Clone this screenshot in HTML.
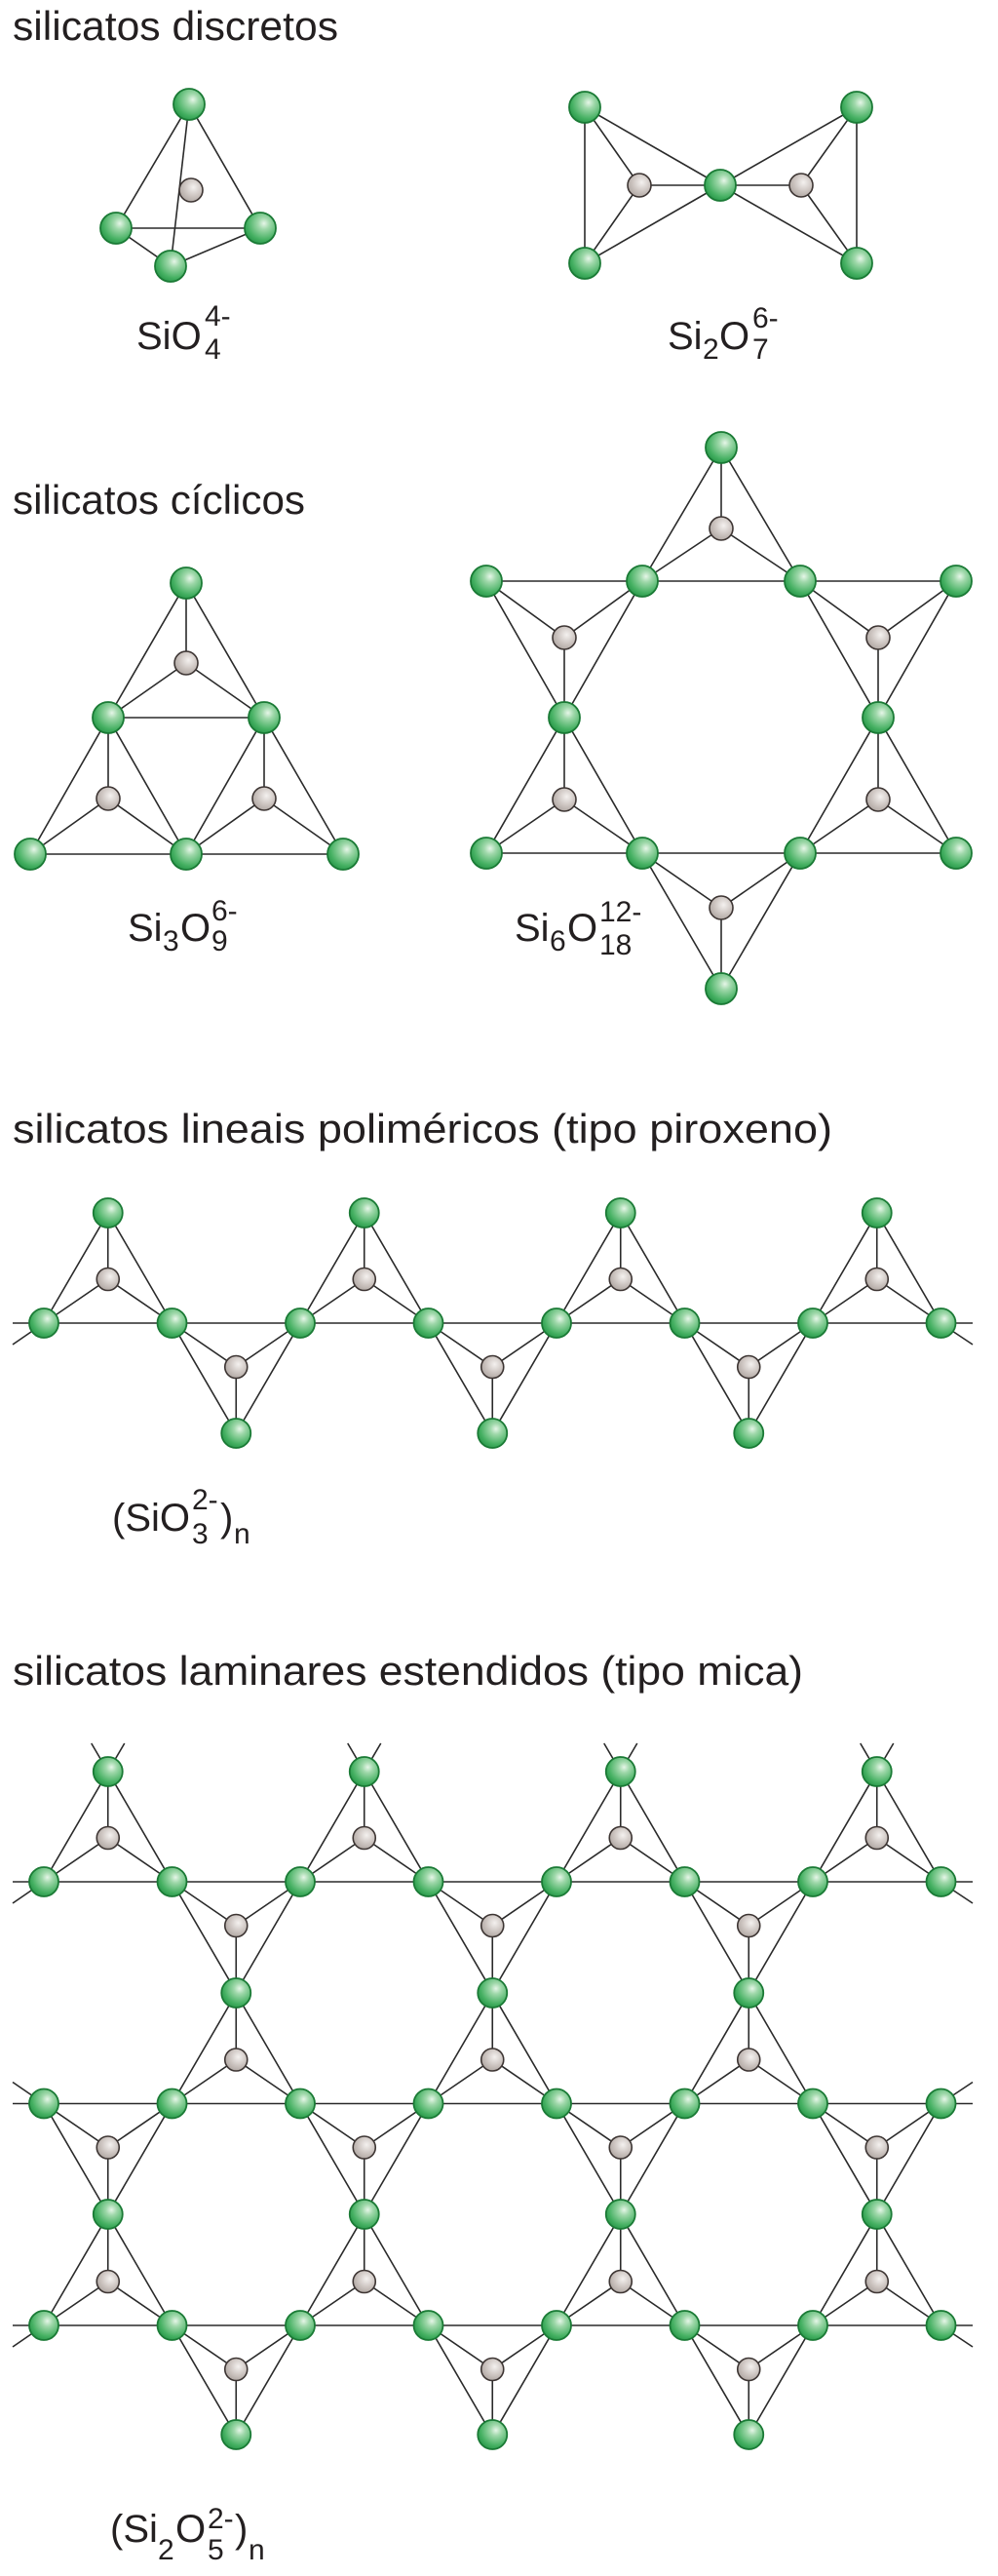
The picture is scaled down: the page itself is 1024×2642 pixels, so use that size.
<!DOCTYPE html>
<html><head><meta charset="utf-8"><style>
html,body{margin:0;padding:0;background:#fff}
svg{display:block}
text{font-family:"Liberation Sans",sans-serif;fill:#231f20}
</style></head><body>
<svg id="s" width="1024" height="2642" viewBox="0 0 1024 2642" xmlns="http://www.w3.org/2000/svg">
<defs>
<radialGradient id="gO" cx="0.62" cy="0.35" r="0.75">
<stop offset="0" stop-color="#e6f6e8"/><stop offset="0.25" stop-color="#9fd8aa"/><stop offset="0.7" stop-color="#45b062"/><stop offset="1" stop-color="#1f8f42"/>
</radialGradient>
<radialGradient id="gS" cx="0.6" cy="0.38" r="0.75">
<stop offset="0" stop-color="#f4f1ef"/><stop offset="0.5" stop-color="#cdc5c1"/><stop offset="1" stop-color="#a69d98"/>
</radialGradient>
</defs>
<g id="L" stroke="#2a2a2a" stroke-width="1.6" fill="none"></g>
<g id="B"></g>

<text x="13" y="41" font-size="42" textLength="334" lengthAdjust="spacingAndGlyphs">silicatos discretos</text>
<text x="13" y="527" font-size="42" textLength="300" lengthAdjust="spacingAndGlyphs">silicatos cíclicos</text>
<text x="13" y="1172" font-size="42" textLength="841" lengthAdjust="spacingAndGlyphs">silicatos lineais poliméricos (tipo piroxeno)</text>
<text x="13" y="1728" font-size="42" textLength="811" lengthAdjust="spacingAndGlyphs">silicatos laminares estendidos (tipo mica)</text>

<g font-size="40">
<text x="140" y="358">SiO</text>
<text x="210" y="334" font-size="30">4-</text>
<text x="210" y="368" font-size="30">4</text>

<text x="685" y="358">Si</text>
<text x="721" y="368" font-size="30">2</text>
<text x="738" y="358">O</text>
<text x="772" y="336" font-size="30">6-</text>
<text x="772" y="368" font-size="30">7</text>

<text x="131" y="965">Si</text>
<text x="167" y="975" font-size="30">3</text>
<text x="185" y="965">O</text>
<text x="217" y="944" font-size="30">6-</text>
<text x="217" y="975" font-size="30">9</text>

<text x="528" y="965">Si</text>
<text x="564" y="975" font-size="30">6</text>
<text x="582" y="965">O</text>
<text x="615" y="945" font-size="30">12-</text>
<text x="615" y="979" font-size="30">18</text>

<text x="115" y="1570">(SiO</text>
<text x="197" y="1548" font-size="30">2-</text>
<text x="197" y="1583" font-size="30">3</text>
<text x="226" y="1570">)</text>
<text x="240" y="1583" font-size="30">n</text>

<text x="113" y="2607">(Si</text>
<text x="162" y="2625" font-size="30">2</text>
<text x="180" y="2607">O</text>
<text x="213" y="2593" font-size="30">2-</text>
<text x="213" y="2625" font-size="30">5</text>
<text x="241" y="2607">)</text>
<text x="255" y="2625" font-size="30">n</text>
</g>
</svg>
<script>
var L=[],O=[],S=[];
function ln(a,b,c,d){L.push('<line x1="'+a+'" y1="'+b+'" x2="'+c+'" y2="'+d+'"/>');}
function o(x,y,r){O.push([x,y,r||16]);}
function si(x,y,r){S.push([x,y,r||12]);}
var t=[194,107],l=[119,234],r=[267,234],b=[175,273];
ln(t[0],t[1],l[0],l[1]);ln(t[0],t[1],r[0],r[1]);ln(t[0],t[1],b[0],b[1]);ln(l[0],l[1],r[0],r[1]);ln(l[0],l[1],b[0],b[1]);ln(b[0],b[1],r[0],r[1]);
si(196,195);o(194,107);o(119,234);o(267,234);o(175,273);
ln(600,110,600,270);ln(879,110,879,270);ln(600,110,739,190);ln(600,270,739,190);ln(879,110,739,190);ln(879,270,739,190);
ln(656,190,600,110);ln(656,190,600,270);ln(656,190,739,190);ln(822,190,879,110);ln(822,190,879,270);ln(822,190,739,190);
si(656,190);si(822,190);o(600,110);o(600,270);o(739,190);o(879,110);o(879,270);
function tri(a,b,c,s,base){ if(base!==false)ln(a[0],a[1],b[0],b[1]);ln(a[0],a[1],c[0],c[1]);ln(b[0],b[1],c[0],c[1]);
 ln(s[0],s[1],a[0],a[1]);ln(s[0],s[1],b[0],b[1]);ln(s[0],s[1],c[0],c[1]);}
tri([111,736],[271,736],[191,598],[191,680]);
tri([31,876],[191,876],[111,736],[111,819]);
tri([191,876],[352,876],[271,736],[271,819]);
si(191,680);si(111,819);si(271,819);
[[191,598],[111,736],[271,736],[31,876],[191,876],[352,876]].forEach(function(p){o(p[0],p[1]);});
var c=740;
tri([c-81,596],[c+81,596],[c,459],[c,542]);
tri([c-241,596],[c-81,596],[c-161,736],[c-161,654]);
tri([c+81,596],[c+241,596],[c+161,736],[c+161,654]);
tri([c-241,875],[c-81,875],[c-161,736],[c-161,820]);
tri([c+81,875],[c+241,875],[c+161,736],[c+161,820]);
tri([c-81,875],[c+81,875],[c,1014],[c,931]);
[[c,542],[c-161,654],[c+161,654],[c-161,820],[c+161,820],[c,931]].forEach(function(p){si(p[0],p[1]);});
[[c,459],[c-241,596],[c-81,596],[c+81,596],[c+241,596],[c-161,736],[c+161,736],[c-241,875],[c-81,875],[c+81,875],[c+241,875],[c,1014]].forEach(function(p){o(p[0],p[1]);});
var X=[];for(var k=0;k<8;k++)X.push(45+131.5*k);
function row(y,upK,downK,tails){
 ln(13,y,998,y);
 upK.forEach(function(k){var m=(X[k]+X[k+1])/2;tri([X[k],y],[X[k+1],y],[m,y-113],[m,y-45],false);si(m,y-45,11.5);});
 downK.forEach(function(k){var m=(X[k]+X[k+1])/2;tri([X[k],y],[X[k+1],y],[m,y+113],[m,y+45],false);si(m,y+45,11.5);});
 X.forEach(function(x){o(x,y,15);});
 if(tails=='down'){ln(45,y,13,y+22);ln(965,y,998,y+22);}
 if(tails=='up'){ln(45,y,13,y-22);ln(965,y,998,y-22);}
}
row(1357,[0,2,4,6],[1,3,5],'down');
[0,2,4,6].forEach(function(k){o((X[k]+X[k+1])/2,1244,15);});
[1,3,5].forEach(function(k){o((X[k]+X[k+1])/2,1470,15);});
var A=1930,Bv=2157.5,C=2385;
row(A,[0,2,4,6],[1,3,5],'down');
row(Bv,[1,3,5],[0,2,4,6],'up');
row(C,[0,2,4,6],[1,3,5],'down');
[0,2,4,6].forEach(function(k){var m=(X[k]+X[k+1])/2;o(m,1817,15);ln(m,1817,m-17,1788);ln(m,1817,m+17,1788);o(m,2271,15);});
[1,3,5].forEach(function(k){var m=(X[k]+X[k+1])/2;o(m,2044,15);o(m,2497,15);});
document.getElementById('L').innerHTML=L.join('');
var h='';
S.forEach(function(p){h+='<circle cx="'+p[0]+'" cy="'+p[1]+'" r="'+p[2]+'" fill="url(#gS)" stroke="#3d3533" stroke-width="1.6"/>';});
O.forEach(function(p){h+='<circle cx="'+p[0]+'" cy="'+p[1]+'" r="'+p[2]+'" fill="url(#gO)" stroke="#1a7a35" stroke-width="1.8"/>';});
document.getElementById('B').innerHTML=h;
</script>
</body></html>
